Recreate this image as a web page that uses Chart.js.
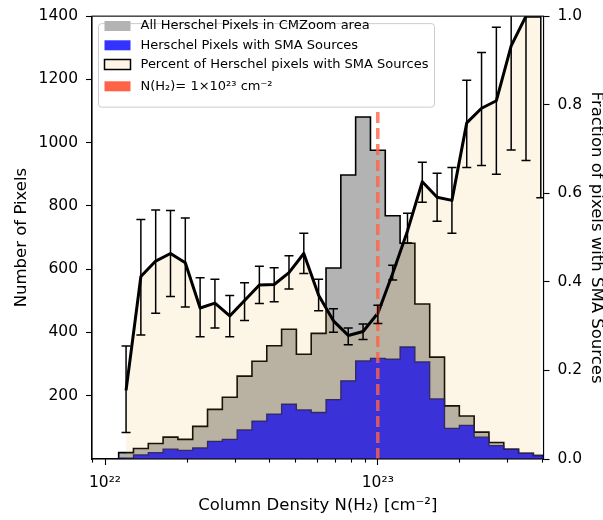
<!DOCTYPE html>
<html>
<head>
<meta charset="utf-8">
<script src="https://cdn.jsdelivr.net/npm/chart.js@4.4.0/dist/chart.umd.min.js"></script>
<style>
  html, body { margin: 0; padding: 0; background: #fff; }
  #wrap { width: 603px; height: 520px; }
</style>
</head>
<body>
<div id="wrap"><canvas id="histChart"></canvas></div>
<script>
// histogram bins (log10 of column density)
const binStartLog = 22.05;
const binWidthLog = 0.0543;

// pixel counts per bin
const allPixels = [20, 33, 49, 69, 62, 103, 157, 195, 262, 309, 358, 410, 331, 397, 604,
                   898, 1081, 976, 769, 682, 490, 322, 168, 136, 85, 52, 31, 18, 11];
const smaPixels = [3, 13, 20, 31, 27, 35, 56, 62, 92, 120, 142, 173, 155, 147, 188,
                   247, 310, 318, 316, 354, 307, 190, 97, 106, 69, 42, 31, 18, 11];

// fraction of pixels with SMA sources, and its error range
const fraction = [0.155, 0.412, 0.447, 0.464, 0.443, 0.341, 0.352, 0.323, 0.358, 0.393,
                  0.394, 0.421, 0.464, 0.370, 0.312, 0.279, 0.288, 0.329, 0.419, 0.515,
                  0.626, 0.591, 0.584, 0.759, 0.792, 0.809, 0.933, 1.0, 1.0];
const fractionLow = [0.06, 0.28, 0.329, 0.367, 0.343, 0.276, 0.296, 0.276, 0.313, 0.351,
                     0.355, 0.384, 0.419, 0.335, 0.286, 0.258, 0.270, 0.306, 0.404, 0.488,
                     0.580, 0.537, 0.510, 0.658, 0.663, 0.643, 0.698, 0.674, 0.59];
const fractionHigh = [0.255, 0.541, 0.5625, 0.561, 0.544, 0.409, 0.406, 0.369, 0.398, 0.435,
                      0.432, 0.459, 0.51, 0.406, 0.339, 0.296, 0.305, 0.347, 0.4375, 0.555,
                      0.670, 0.645, 0.658, 0.855, 0.918, 0.975, 1.2, 1.3, 1.4];

// N(H2) = 1e23 marker
const thresholdDensity = 1e23;
const thresholdTop = 1100;

// axes
const xMin = 8.96e21, xMax = 4.05e23;
const xMajorTicks = [1e22, 1e23];
const xMinorTicks = [9e21, 2e22, 3e22, 4e22, 5e22, 6e22, 7e22, 8e22, 9e22, 2e23, 3e23, 4e23];
const leftTicks = [0, 200, 400, 600, 800, 1000, 1200, 1400];
const rightTicks = [0, 0.2, 0.4, 0.6, 0.8, 1.0];

const legendLabels = [
    'All Herschel Pixels in CMZoom area',
    'Herschel Pixels with SMA Sources',
    'Percent of Herschel pixels with SMA Sources',
    'N(H\u2082)= 1\u00d710\u00b2\u00b3 cm\u207b\u00b2'
];

const GRAY = '#b3b3b3';
const BLUE = 'rgba(0, 0, 255, 0.8)';
const CREAM = 'rgba(236, 164, 27, 0.11)';
const RED = 'rgba(255, 99, 71, 0.8)';

const supDigits = {'0': '\u2070', '1': '\u00b9', '2': '\u00b2', '3': '\u00b3', '4': '\u2074',
                   '5': '\u2075', '6': '\u2076', '7': '\u2077', '8': '\u2078', '9': '\u2079'};

function edge(i) {
    return Math.pow(10, binStartLog + i * binWidthLog);
}
function center(i) {
    return Math.pow(10, binStartLog + (i + 0.5) * binWidthLog);
}

function stepPoints(values) {
    const pts = [{x: edge(0), y: 0}];
    values.forEach((v, i) => pts.push({x: edge(i), y: v}));
    pts.push({x: edge(values.length), y: values[values.length - 1]});
    pts.push({x: edge(values.length), y: 0});
    return pts;
}

function powerLabel(value) {
    const exp = Math.round(Math.log10(value));
    return '10' + String(exp).split('').map(d => supDigits[d]).join('');
}

// error bars on the fraction curve
const errorBarPlugin = {
    id: 'errorBars',
    afterDatasetsDraw(chart) {
        const ctx = chart.ctx;
        const xs = chart.scales.x;
        const ys = chart.scales.yR;
        const area = chart.chartArea;
        ctx.save();
        ctx.beginPath();
        ctx.rect(area.left, area.top, area.right - area.left, area.bottom - area.top);
        ctx.clip();
        ctx.strokeStyle = '#000';
        ctx.lineWidth = 1.5;
        fraction.forEach((f, i) => {
            const x = xs.getPixelForValue(center(i));
            const yLo = ys.getPixelForValue(fractionLow[i]);
            const yHi = ys.getPixelForValue(fractionHigh[i]);
            ctx.beginPath();
            ctx.moveTo(x, yLo);
            ctx.lineTo(x, yHi);
            ctx.moveTo(x - 4.5, yLo);
            ctx.lineTo(x + 4.5, yLo);
            ctx.moveTo(x - 4.5, yHi);
            ctx.lineTo(x + 4.5, yHi);
            ctx.stroke();
        });
        ctx.restore();
    }
};

// frame on top of the plot area plus the boxed legend
const frameLegendPlugin = {
    id: 'frameLegend',
    afterDraw(chart) {
        const ctx = chart.ctx;
        const a = chart.chartArea;
        ctx.save();
        ctx.strokeStyle = '#000';
        ctx.lineWidth = 1.1;
        ctx.strokeRect(a.left, a.top, a.right - a.left, a.bottom - a.top);

        const bx = a.left + 6.5, by = a.top + 7.5, bw = 336, bh = 83.5, r = 3;
        ctx.beginPath();
        ctx.moveTo(bx + r, by);
        ctx.arcTo(bx + bw, by, bx + bw, by + bh, r);
        ctx.arcTo(bx + bw, by + bh, bx, by + bh, r);
        ctx.arcTo(bx, by + bh, bx, by, r);
        ctx.arcTo(bx, by, bx + bw, by, r);
        ctx.closePath();
        ctx.fillStyle = 'rgba(255,255,255,0.8)';
        ctx.fill();
        ctx.strokeStyle = '#cccccc';
        ctx.lineWidth = 1;
        ctx.stroke();

        const patches = [
            {fill: GRAY, edge: null},
            {fill: 'rgb(51,51,255)', edge: null},
            {fill: '#fdf5e6', edge: '#000'},
            {fill: 'rgb(255,99,71)', edge: null}
        ];
        const rowY = [26, 45.3, 64.5, 86.3];
        ctx.font = '13px "DejaVu Sans"';
        ctx.textBaseline = 'middle';
        ctx.textAlign = 'left';
        legendLabels.forEach((label, i) => {
            const p = patches[i];
            const py = rowY[i] - 5;
            ctx.fillStyle = p.fill;
            ctx.fillRect(bx + 6, py, 26, 10);
            if (p.edge) {
                ctx.strokeStyle = p.edge;
                ctx.lineWidth = 1.5;
                ctx.strokeRect(bx + 6, py, 26, 10);
            }
            ctx.fillStyle = '#000';
            ctx.fillText(label, bx + 42, rowY[i]);
        });
        ctx.restore();
    }
};

Chart.defaults.font.family = '"DejaVu Sans", sans-serif';
Chart.defaults.font.size = 15.5;
Chart.defaults.color = '#000';

new Chart(document.getElementById('histChart'), {
    type: 'line',
    data: {
        datasets: [
            {
                label: legendLabels[0],
                data: stepPoints(allPixels),
                yAxisID: 'y',
                stepped: 'before',
                fill: 'origin',
                backgroundColor: GRAY,
                borderColor: '#000',
                borderWidth: 1.6,
                pointRadius: 0,
                order: 5
            },
            {
                label: legendLabels[1],
                data: stepPoints(smaPixels),
                yAxisID: 'y',
                stepped: 'before',
                fill: 'origin',
                backgroundColor: BLUE,
                borderColor: 'rgba(20, 20, 90, 0.9)',
                borderWidth: 1.3,
                pointRadius: 0,
                order: 4
            },
            {
                label: legendLabels[2],
                data: fraction.map((f, i) => ({x: center(i), y: f})),
                yAxisID: 'yR',
                fill: 'origin',
                backgroundColor: CREAM,
                borderColor: '#000',
                borderWidth: 3,
                borderJoinStyle: 'round',
                tension: 0,
                pointRadius: 0,
                order: 2
            },
            {
                label: legendLabels[3],
                data: [{x: thresholdDensity, y: 0}, {x: thresholdDensity, y: thresholdTop}],
                yAxisID: 'y',
                fill: false,
                borderColor: RED,
                borderWidth: 3.5,
                borderDash: [11, 5],
                pointRadius: 0,
                order: 1
            }
        ]
    },
    options: {
        responsive: true,
        maintainAspectRatio: false,
        animation: false,
        events: [],
        layout: { padding: { top: 8.3, left: 0, right: 0, bottom: 0 } },
        plugins: {
            legend: { display: false },
            tooltip: { enabled: false }
        },
        scales: {
            x: {
                type: 'logarithmic',
                min: xMin,
                max: xMax,
                afterBuildTicks: (scale) => {
                    scale.ticks = xMinorTicks.concat(xMajorTicks)
                        .sort((a, b) => a - b)
                        .map(v => ({value: v, major: false}));
                },
                afterFit: (scale) => { scale.height = 61; },
                ticks: {
                    autoSkip: false,
                    maxRotation: 0,
                    padding: 9,
                    callback: (value) => xMajorTicks.includes(value) ? powerLabel(value) : ''
                },
                grid: {
                    drawOnChartArea: false,
                    tickLength: 6,
                    tickWidth: 1.1,
                    tickColor: '#000',
                    tickBorderDash: (ctx) => ctx.tick && xMajorTicks.includes(ctx.tick.value) ? [] : [3.5, 20]
                },
                border: { display: true, color: '#000', width: 1.1 },
                title: {
                    display: true,
                    text: 'Column Density N(H\u2082) [cm\u207b\u00b2]',
                    font: { size: 16.5 },
                    padding: { top: 0, bottom: 4 }
                }
            },
            y: {
                type: 'linear',
                position: 'left',
                min: 0,
                max: 1400,
                afterBuildTicks: (scale) => { scale.ticks = leftTicks.map(v => ({value: v})); },
                afterFit: (scale) => { scale.width = 92; },
                ticks: {
                    padding: 8,
                    font: { lineHeight: 1.05 },
                    callback: (value) => value === 0 ? '' : String(value)
                },
                grid: {
                    drawOnChartArea: false,
                    tickLength: 6,
                    tickWidth: 1.1,
                    tickColor: (ctx) => ctx.tick && ctx.tick.value === 0 ? 'rgba(0,0,0,0)' : '#000'
                },
                border: { display: true, color: '#000', width: 1.1 },
                title: {
                    display: true,
                    text: 'Number of Pixels',
                    font: { size: 16.5 },
                    padding: { top: 12, bottom: 0 }
                }
            },
            yR: {
                type: 'linear',
                position: 'right',
                min: 0,
                max: 1,
                afterBuildTicks: (scale) => { scale.ticks = rightTicks.map(v => ({value: v})); },
                afterFit: (scale) => { scale.width = 59.5; },
                ticks: {
                    padding: 8,
                    font: { lineHeight: 1.05 },
                    callback: (value) => value.toFixed(1)
                },
                grid: {
                    drawOnChartArea: false,
                    tickLength: 6,
                    tickWidth: 1.1,
                    tickColor: '#000'
                },
                border: { display: true, color: '#000', width: 1.1 },
                title: {
                    display: true,
                    text: 'Fraction of pixels with SMA Sources',
                    font: { size: 16.5 },
                    padding: { top: -3, bottom: 0 }
                }
            }
        }
    },
    plugins: [errorBarPlugin, frameLegendPlugin]
});
</script>
</body>
</html>
